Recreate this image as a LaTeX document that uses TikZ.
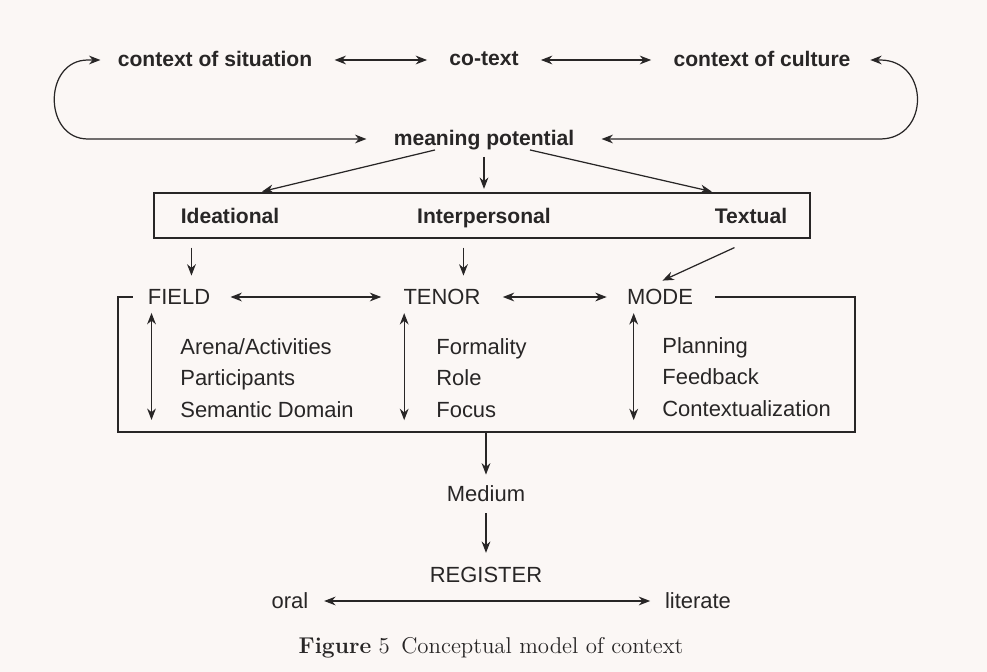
\documentclass[tikz,border=0pt]{standalone}
\usepackage{fontspec}
\setsansfont{Liberation Sans}
\usetikzlibrary{calc}
\usetikzlibrary{arrows.meta}
\definecolor{paper}{RGB}{251,247,245}
\definecolor{ink}{RGB}{40,38,38}

\begin{document}
\begin{tikzpicture}[%
        x = 0.02cm,
        y = -0.02cm,
        draw = ink,
        line width = 0.7pt,
        >={Stealth[length=6.5pt,width=5pt]},
        every node/.style = {text = ink, inner sep = 1pt,
            font = \sffamily\fontsize{12.5}{18}\selectfont},
        head/.style = {font = \sffamily\bfseries\fontsize{12}{14}\selectfont,
            text depth = 0.25ex},
        item/.style = {anchor = west, align = left},
        link/.style = {<->, shorten <=0.4cm, shorten >=0.4cm},
        ]

\useasboundingbox[fill = paper] (0,0) rectangle (987,672);
% \draw (0,0) grid (987,672);


\node (sit) [head] at (215,60) {context of situation};
\node (cot) [head] at (484,60) {co-text};
\node (cul) [head] at (762,60) {context of culture};
\node (mp) [head] at (484,139) {meaning potential};

\draw[link] (sit) -- (cot);
\draw[link] (cot) -- (cul);

\draw[<->, shorten <=0.3cm, shorten >=0.5cm] (sit.west) -- (88,60)
    .. controls (43,60) and (43,139) .. (88,139) -- (mp.west);
\draw[<->, shorten <=0.35cm, shorten >=0.5cm] (cul.east) -- (880,60)
    .. controls (930,60) and (930,139) .. (880,139) -- (mp.east);


\node (fn) [draw, minimum width = 13.12cm, minimum height = 0.9cm] at (482,215.5) {};
\node (ide) [head] at (230,217) {Ideational};
\node (inp) [head] at (484,217) {Interpersonal};
\node (txt) [head] at (751,217) {Textual};

\draw[->, shorten >=2pt] ([xshift = -0.98cm]mp.south) -- ($(fn.north west)!0.16!(fn.north east)$);
\draw[->, shorten <=4pt, shorten >=2pt] (mp.south) -- (mp.south |- fn.north);
\draw[->, shorten >=2pt] ([xshift = 0.92cm]mp.south) -- ($(fn.north west)!0.855!(fn.north east)$);


\node (fld) at (179,297) {FIELD};
\node (ten) at (442,297) {TENOR};
\node (mod) at (660,297) {MODE};

\draw[->] ($(fn.south west)+(38,9)$) -- +(0,28);
\draw[->] ($(fn.south west)+(310,9)$) -- +(0,28);
\draw[->] ($(fn.south west)+(581,9)$) -- +(-72,33);

\draw[link, shorten <=0.36cm] (fld) -- (ten);
\draw[link, shorten >=0.36cm] (ten) -- (mod);

\coordinate (bl) at (118,432);
\coordinate (br) at (855,432);
\draw[shorten <=0.26cm, shorten >=0.4cm] (fld.west) -| (bl) -- (br) |- (mod.east);

\foreach \N/\D in {fld/6, ten/3, mod/9}{
    \draw[<->] ($(\N.south west)+(\D,6)$) -- +(0,107);
    }

\node (fldl) [item] at (178,378) {Arena/Activities\\Participants\\Semantic Domain};
\node (tenl) [item] at (434,378) {Formality\\Role\\Focus};
\node (modl) [item] at (660,377) {Planning\\Feedback\\Contextualization};


\node (med) at (486,494) {Medium};
\node (reg) at (486,575) {REGISTER};
\node (orl) at (290,601) {oral};
\node (lit) at (698,601) {literate};

\draw[->, shorten >=0.18cm] (bl -| med) -- (med);
\draw[->, shorten <=0.18cm, shorten >=0.24cm] (med) -- (reg);
\draw[<->, shorten <=0.27cm, shorten >=0.25cm] (orl) -- (lit);

\node (cap) [font = \rmfamily\fontsize{13}{15}\selectfont] at (491,648)
    {\textbf{Figure} {\addfontfeatures{Numbers=OldStyle}5}\enspace Conceptual model of context};


\end{tikzpicture}
\end{document}
